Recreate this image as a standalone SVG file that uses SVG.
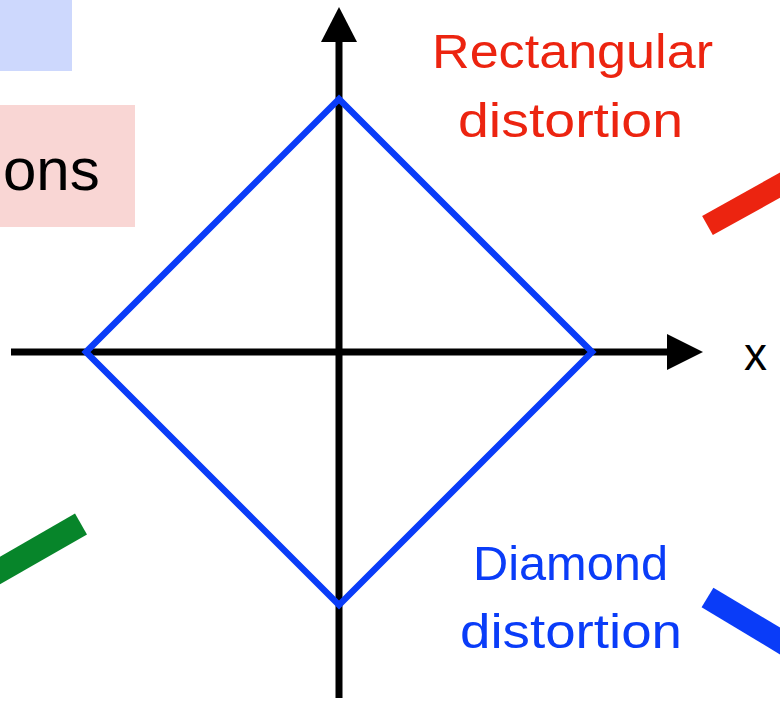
<svg xmlns="http://www.w3.org/2000/svg" width="780" height="707" viewBox="0 0 780 707">
  <style>
    .lbl { font-family: "Liberation Sans", Arial, sans-serif; }
    .red { fill: #EC2410; }
    .blue { fill: #0A3CF8; }
    .axis { stroke: #000; stroke-width: 7; fill: none; }
  </style>
  <rect width="780" height="707" fill="#fff"/>
  <g id="title-boxes">
    <rect x="0" y="0" width="72" height="71" fill="#CDD8FD"/>
    <rect x="0" y="105" width="135" height="122" fill="#F9D6D4"/>
    <text class="lbl" x="3" y="190" font-size="60" fill="#000">ons</text>
  </g>
  <g id="axes">
    <line class="axis" x1="339" y1="38" x2="339" y2="698"/>
    <polygon points="339,7 321,42 357,42" fill="#000"/>
    <line class="axis" x1="11" y1="352" x2="670" y2="352"/>
    <polygon points="703,352 667,334 667,370" fill="#000"/>
    <text class="lbl" x="744" y="370" font-size="46" fill="#000">x</text>
  </g>
  <g id="diamond">
    <polygon points="339,99 592,352 339,605 86,352" fill="none" stroke="#0A3CF8" stroke-width="6.5" stroke-linejoin="miter"/>
  </g>
  <g id="label-rect">
    <text class="lbl red" x="432" y="68" font-size="48" textLength="281" lengthAdjust="spacingAndGlyphs">Rectangular</text>
    <text class="lbl red" x="458" y="137" font-size="48" textLength="225" lengthAdjust="spacingAndGlyphs">distortion</text>
  </g>
  <g id="label-diamond">
    <text class="lbl blue" x="473" y="580" font-size="48" textLength="195" lengthAdjust="spacingAndGlyphs">Diamond</text>
    <text class="lbl blue" x="460" y="648" font-size="48" textLength="222" lengthAdjust="spacingAndGlyphs">distortion</text>
  </g>
  <g id="connectors">
    <line x1="707.5" y1="225.5" x2="800" y2="174" stroke="#EC2410" stroke-width="22"/>
    <line x1="81" y1="524" x2="-20" y2="582" stroke="#07852A" stroke-width="24"/>
    <line x1="707.5" y1="597.5" x2="800" y2="653" stroke="#0A3CF8" stroke-width="23"/>
  </g>
</svg>
